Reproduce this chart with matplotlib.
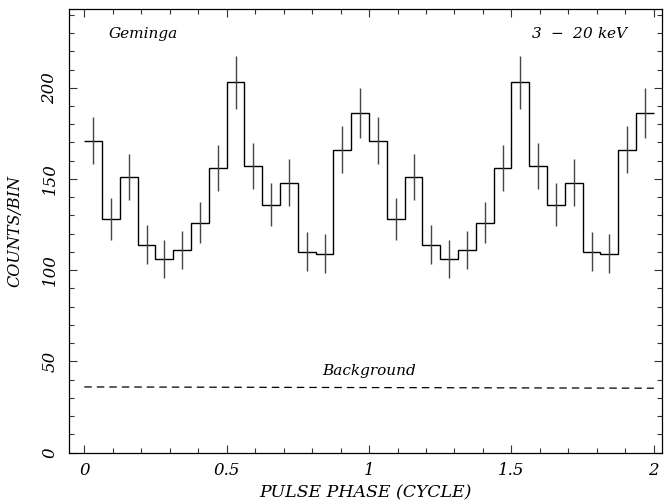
import numpy as np
import matplotlib
matplotlib.use('Agg')
import matplotlib.pyplot as plt
from matplotlib.ticker import MultipleLocator

# counts per bin over one cycle (16 bins)
counts = [171, 128, 151, 114, 106, 111, 126, 156, 203, 157, 136, 148, 110, 109, 166, 186]
errors = [13.0, 11.4, 12.5, 10.7, 10.4, 10.6, 11.2, 12.6, 14.4, 12.5, 11.8, 12.7, 10.7, 10.7, 12.9, 13.6]
n_cycles = 2
bkg_phase = [0.0, 2.0]
bkg_level = [36.0, 35.3]

vals = np.tile(counts, n_cycles)
errs = np.tile(errors, n_cycles)
nbin = len(vals)
edges = np.linspace(0, n_cycles, nbin + 1)
centers = 0.5 * (edges[:-1] + edges[1:])

plt.rcParams['font.family'] = 'DejaVu Serif'
plt.rcParams['font.style'] = 'italic'

fig = plt.figure(figsize=(6.65, 5.04), dpi=100)
ax = fig.add_axes([0.1045, 0.102, 0.8915, 0.8795])

ax.stairs(vals, edges, baseline=None, color='black', linewidth=1.0)
ax.errorbar(centers, vals, yerr=errs, fmt='none', ecolor='#444444', elinewidth=1.0, capsize=0)
ax.plot(bkg_phase, bkg_level, color='black', linestyle=(0, (6, 4)), linewidth=0.9)

ax.text(1.0, 41, 'Background', ha='center', va='bottom', fontsize=11)
ax.text(0.084, 229.5, 'Geminga', ha='left', va='center', fontsize=11)
ax.text(1.916, 229.5, r'3  $-$  20 keV', ha='right', va='center', fontsize=11)

ax.set_xlim(-0.052, 2.03)
ax.set_ylim(0, 243)
ax.xaxis.set_major_locator(MultipleLocator(0.5))
ax.xaxis.set_minor_locator(MultipleLocator(0.1))
ax.yaxis.set_major_locator(MultipleLocator(50))
ax.yaxis.set_minor_locator(MultipleLocator(10))
ax.set_xticks([0, 0.5, 1, 1.5, 2])
ax.set_xticklabels(['0', '0.5', '1', '1.5', '2'])
ax.set_yticks([0, 50, 100, 150, 200])
ax.set_yticklabels(['0', '50', '100', '150', '200'], rotation=90, va='center')

ax.tick_params(which='both', direction='in', top=True, right=True, labelsize=12, color='#333333')
ax.tick_params(which='major', length=6, width=0.8)
ax.tick_params(which='minor', length=3.5, width=0.8)
ax.tick_params(axis='x', pad=7)
ax.tick_params(axis='y', pad=8)
for s in ax.spines.values():
    s.set_linewidth(0.9)

ax.set_xlabel('PULSE PHASE (CYCLE)', fontsize=12.5, labelpad=4)
ax.set_ylabel('COUNTS/BIN', fontsize=11.5, labelpad=13)

fig.savefig('out.png', dpi=100)
